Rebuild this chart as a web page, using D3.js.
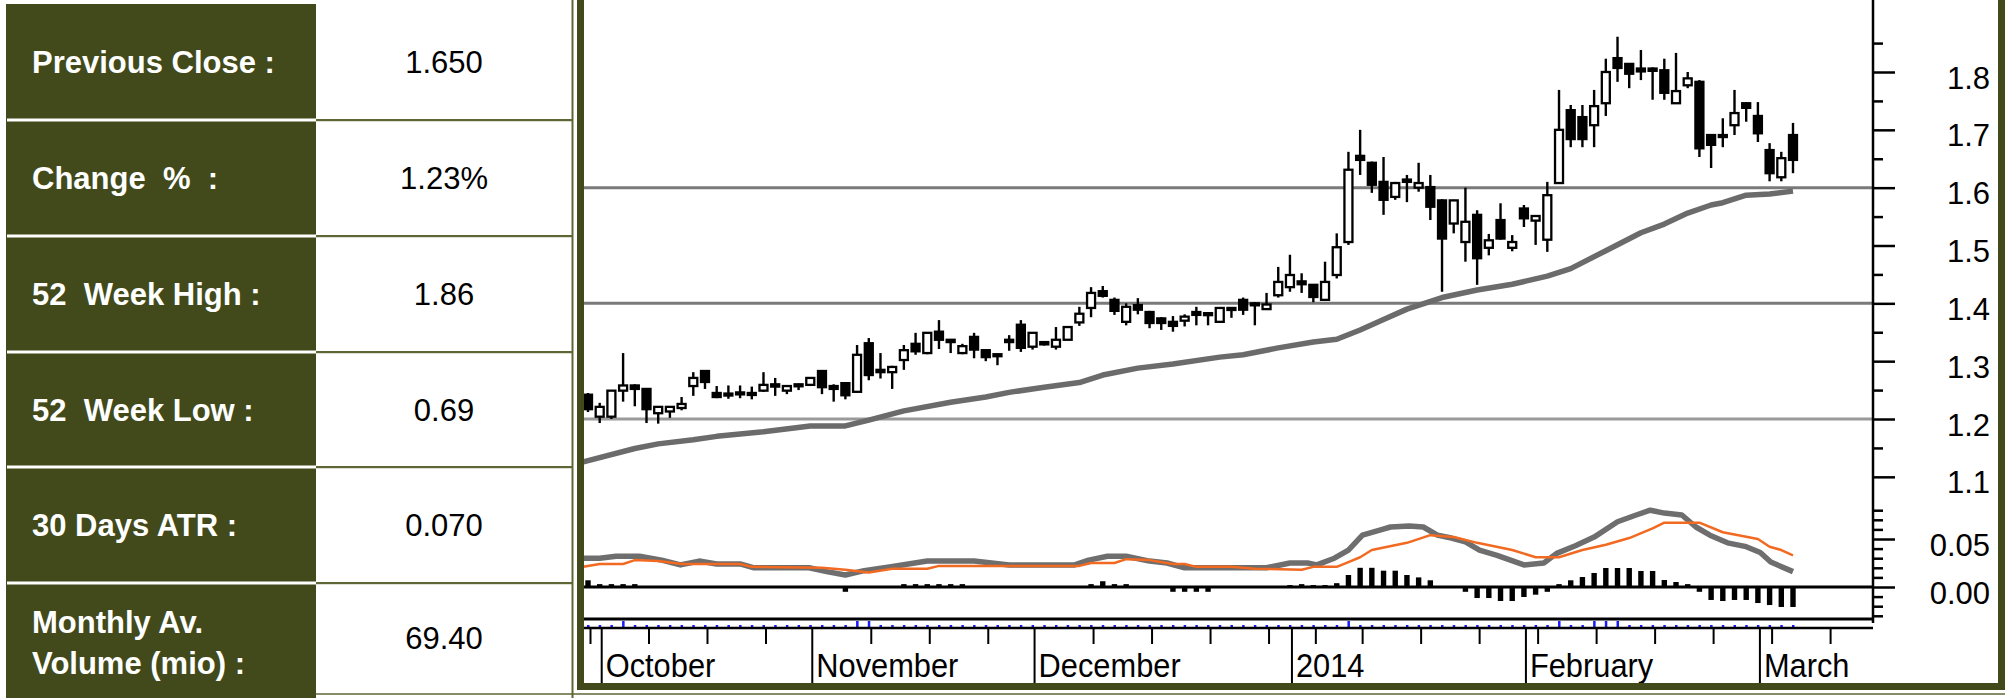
<!DOCTYPE html>
<html><head><meta charset="utf-8">
<script src="https://cdn.jsdelivr.net/npm/d3@7"></script>
<style>
html,body{margin:0;padding:0;background:#fff;overflow:hidden;}
svg{display:block;}
text{white-space:pre;}
</style></head><body>
<svg id="c" width="2005" height="698"></svg>
<script>
// ---------- DATA ----------
const statLabels = ["Previous Close :", "Change  %  :", "52  Week High :", "52  Week Low :", "30 Days ATR :", "Monthly Av.\nVolume (mio) :"];
const statValues = ["1.650", "1.23%", "1.86", "0.69", "0.070", "69.40"];

const opens  = [1.242,1.204,1.204,1.249,1.258,1.252,1.210,1.213,1.219,1.257,1.283,1.245,1.244,1.244,1.245,1.249,1.260,1.249,1.260,1.259,
                1.283,1.257,1.262,1.247,1.331,1.285,1.281,1.302,1.330,1.314,1.351,1.337,1.314,1.342,1.319,1.312,1.333,1.363,1.325,1.333,
                1.325,1.337,1.367,1.392,1.421,1.406,1.368,1.397,1.385,1.374,1.368,1.370,1.385,1.383,1.368,1.390,1.406,1.400,1.390,1.414,
                1.428,1.438,1.432,1.406,1.449,1.506,1.655,1.643,1.610,1.584,1.614,1.600,1.601,1.578,1.538,1.506,1.553,1.496,1.544,1.496,
                1.564,1.543,1.510,1.608,1.734,1.722,1.708,1.746,1.824,1.814,1.806,1.806,1.803,1.746,1.777,1.783,1.691,1.688,1.708,1.746,
                1.724,1.665,1.618,1.691];
const highs  = [1.245,1.228,1.250,1.314,1.260,1.252,1.222,1.222,1.238,1.281,1.283,1.257,1.258,1.258,1.256,1.281,1.271,1.258,1.261,1.272,
                1.284,1.260,1.262,1.328,1.340,1.314,1.292,1.328,1.349,1.350,1.371,1.338,1.330,1.349,1.320,1.313,1.345,1.371,1.350,1.334,
                1.359,1.360,1.394,1.428,1.430,1.410,1.400,1.409,1.387,1.376,1.378,1.381,1.394,1.385,1.393,1.393,1.410,1.402,1.418,1.463,
                1.484,1.452,1.433,1.472,1.521,1.662,1.700,1.645,1.653,1.610,1.622,1.643,1.622,1.580,1.579,1.600,1.561,1.520,1.573,1.518,
                1.570,1.552,1.610,1.769,1.743,1.743,1.769,1.823,1.861,1.815,1.838,1.808,1.823,1.833,1.800,1.786,1.692,1.720,1.769,1.748,
                1.748,1.677,1.662,1.712];
const lows   = [1.212,1.193,1.200,1.230,1.222,1.193,1.192,1.202,1.215,1.240,1.252,1.236,1.235,1.236,1.234,1.247,1.240,1.243,1.250,1.257,
                1.243,1.230,1.234,1.247,1.267,1.270,1.252,1.285,1.311,1.312,1.321,1.314,1.312,1.305,1.300,1.293,1.318,1.316,1.320,1.327,
                1.320,1.337,1.361,1.376,1.410,1.380,1.362,1.381,1.357,1.354,1.351,1.360,1.362,1.362,1.367,1.375,1.380,1.362,1.389,1.410,
                1.420,1.418,1.402,1.404,1.443,1.501,1.622,1.591,1.553,1.579,1.575,1.593,1.544,1.420,1.521,1.472,1.432,1.483,1.510,1.490,
                1.532,1.501,1.489,1.608,1.670,1.670,1.670,1.724,1.783,1.772,1.786,1.752,1.752,1.745,1.772,1.653,1.634,1.670,1.691,1.714,
                1.679,1.611,1.611,1.625];
const closes = [1.217,1.221,1.249,1.258,1.252,1.217,1.221,1.221,1.226,1.271,1.264,1.238,1.242,1.246,1.243,1.259,1.256,1.257,1.257,1.271,
                1.255,1.252,1.241,1.311,1.276,1.281,1.290,1.319,1.317,1.349,1.337,1.333,1.326,1.320,1.307,1.309,1.337,1.323,1.349,1.329,
                1.337,1.359,1.382,1.418,1.413,1.387,1.394,1.389,1.366,1.366,1.361,1.377,1.380,1.380,1.392,1.392,1.389,1.397,1.398,1.437,
                1.449,1.433,1.411,1.437,1.497,1.631,1.648,1.605,1.579,1.608,1.610,1.608,1.567,1.512,1.578,1.541,1.478,1.509,1.512,1.506,
                1.547,1.551,1.587,1.700,1.684,1.684,1.741,1.800,1.807,1.797,1.801,1.802,1.764,1.767,1.789,1.668,1.674,1.691,1.729,1.738,
                1.694,1.625,1.651,1.648];

// moving average: [candle index, value]
const maPoints = [[-0.4,1.126],[4,1.149],[6,1.157],[9,1.164],[11,1.170],[15,1.178],[19,1.188],[22,1.188],[24,1.198],[27,1.214],
                  [31,1.229],[34,1.238],[36,1.246],[39,1.255],[42,1.263],[44,1.276],[47,1.288],[50,1.295],[54,1.307],[56,1.311],
                  [59,1.323],[62,1.333],[64,1.338],[66,1.354],[68,1.372],[70,1.390],[73,1.410],[76,1.423],[79,1.433],[82,1.447],
                  [84,1.460],[87,1.491],[90,1.522],[92,1.537],[94,1.556],[96,1.570],[97,1.574],[99,1.587],[101,1.589],[103,1.594]];

// MACD line (grey) and signal (orange): [candle index, value]
const macdPoints = [[-0.4,0.030],[1,0.030],[2.4,0.032],[4.4,0.032],[6.3,0.028],[7.9,0.023],[9.5,0.027],[11,0.024],[13,0.024],[14.2,0.020],
                    [18.9,0.020],[20.4,0.016],[22,0.0125],[23.6,0.017],[25.9,0.021],[29,0.027],[33,0.027],[36,0.023],[41.6,0.023],[42.8,0.028],
                    [44.4,0.032],[46,0.032],[48,0.027],[49.5,0.025],[51,0.020],[58,0.020],[60,0.025],[61.5,0.025],[62.3,0.023],[63.8,0.030],
                    [65,0.0385],[66.2,0.054],[67.9,0.060],[68.6,0.0625],[70.2,0.0635],[71.4,0.0625],[72.6,0.054],[73.8,0.051],[75,0.047],[76.2,0.0385],
                    [77.7,0.033],[80,0.023],[81.7,0.025],[82.8,0.035],[84.4,0.043],[86,0.052],[88,0.068],[89.6,0.075],[90.8,0.080],[92,0.077],
                    [93.5,0.075],[94.7,0.0625],[95.9,0.054],[97.4,0.046],[99,0.042],[100.2,0.036],[101.1,0.026],[103,0.016]];
const signalPoints = [[-0.4,0.021],[1,0.024],[3,0.024],[4,0.028],[6,0.027],[8,0.024],[13,0.024],[14,0.021],[20,0.020],[22,0.018],
                      [24,0.015],[26,0.019],[29,0.019],[30,0.022],[34,0.022],[42,0.022],[43,0.025],[45,0.025],[46,0.029],[48,0.028],
                      [50,0.024],[51,0.024],[52,0.021],[55,0.021],[57,0.019],[61,0.018],[62,0.021],[64,0.021],[65,0.026],[66,0.031],
                      [67,0.0385],[70,0.046],[72,0.054],[74,0.052],[76,0.046],[79,0.0385],[81,0.031],[83,0.031],[85,0.0385],[87,0.044],
                      [89,0.051],[91,0.061],[92,0.067],[95,0.067],[97,0.057],[100,0.050],[101,0.042],[102,0.0385],[103,0.033]];
const histValues = [0.007,0.003,0.003,0.003,0.003,0.001,0,0,0,0,
                    0.001,0,0,0,0,0,0,0,0,0,
                    0,0,-0.005,0.001,0.001,0.001,0,0.003,0.003,0.003,
                    0.003,0.003,0.003,0.001,0,0,0,0,0.001,0,
                    0,0,0.001,0.003,0.006,0.003,0.003,0.001,0,0,
                    -0.005,-0.005,-0.005,-0.005,0,0,0,0,0,0,
                    0.002,0.003,0.002,0.002,0.004,0.0125,0.02,0.02,0.017,0.017,
                    0.0125,0.01,0.007,0,0,-0.005,-0.0115,-0.0115,-0.0146,-0.0146,
                    -0.0104,-0.008,-0.005,0.003,0.007,0.0104,0.0146,0.0198,0.0198,0.0198,
                    0.0167,0.0167,0.0073,0.0052,0.003,-0.005,-0.0135,-0.0146,-0.0135,-0.0135,
                    -0.0167,-0.0188,-0.0208,-0.0208];
const volumeSpikes = [3, 23, 24, 65, 83, 86, 87, 88];

const priceTicks = [1.1,1.2,1.3,1.4,1.5,1.6,1.7,1.8];
const priceMinorTicks = [1.15,1.25,1.35,1.45,1.55,1.65,1.75,1.85];
const gridLevels = [1.2,1.4,1.6];
const macdTicks = [0.00,0.05];
const macdMinorTicks = [-0.03,-0.02,-0.01,0.01,0.02,0.03,0.04,0.06,0.07,0.08];
const monthLabels = ["October","November","December","2014","February","March"];
const monthStarts = [1,19,38,60,80,100];
const weekTicks = [0,5,10,15,24,29,34,43,48,53,58,62,66,71,76,81,86,91,96,101,106];

// ---------- DRAW ----------
const OLIVE = "#424a1b";
const svg = d3.select("#c");
const FONT = "'Liberation Sans', Arial, Helvetica, sans-serif";

// Left table
const rowEdges = [4,120,236,352,467,583,698];
svg.append("rect").attr("x",6).attr("y",4).attr("width",310).attr("height",694).attr("fill",OLIVE);
rowEdges.slice(1,-1).forEach(y=>{
  svg.append("rect").attr("x",7).attr("y",y-1.5).attr("width",309).attr("height",3).attr("fill","#fff");
  svg.append("rect").attr("x",316).attr("y",y-1).attr("width",257).attr("height",2.2).attr("fill","#5d6634");
});
svg.append("rect").attr("x",571.5).attr("y",0).attr("width",2).attr("height",698).attr("fill","#5d6634");

statLabels.forEach((lab,i)=>{
  const y0 = rowEdges[i], y1 = rowEdges[i+1];
  const lines = lab.split("\n");
  const t = svg.append("text").attr("font-family",FONT).attr("font-weight","bold").attr("font-size",31).attr("fill","#fff");
  if(lines.length===1){
    t.attr("x",32).attr("y",(y0+y1)/2+11).text(lab);
  } else {
    lines.forEach((ln,k)=>t.append("tspan").attr("x",32).attr("y",(y0+y1)/2 - 8 + k*41).text(ln));
  }
  svg.append("text").attr("font-family",FONT).attr("font-size",31).attr("fill","#000")
    .attr("text-anchor","middle").attr("x",444).attr("y",(y0+y1)/2+11 + (i===5?-3:0)).text(statValues[i]);
});

// Scales
const x = d3.scaleLinear().domain([0,103]).range([588,1793]);
const yP = d3.scaleLinear().domain([1.2,1.8]).range([419,72]);
const yM = d3.scaleLinear().domain([0,0.05]).range([587,539]);
const AXX = 1873, LEFT = 584;

// grid lines
svg.append("g").selectAll("line").data(gridLevels).join("line")
  .attr("x1",LEFT).attr("x2",AXX).attr("y1",d=>yP(d)).attr("y2",d=>yP(d))
  .attr("stroke",d=>d===1.2?"#9a9a9a":"#7a7a7a").attr("stroke-width",3);

// moving average
svg.append("path").datum(maPoints)
  .attr("d",d3.line().x(d=>x(d[0])).y(d=>yP(d[1])))
  .attr("fill","none").attr("stroke","#6b6b6b").attr("stroke-width",5.5).attr("stroke-linejoin","round");

// candles
const idx = d3.range(opens.length);
const cg = svg.append("g");
cg.selectAll("line").data(idx).join("line")
  .attr("x1",i=>x(i)).attr("x2",i=>x(i)).attr("y1",i=>yP(highs[i])).attr("y2",i=>yP(lows[i]))
  .attr("stroke","#000").attr("stroke-width",2.4);
cg.selectAll("rect").data(idx).join("rect")
  .attr("x",i=>x(i)-4).attr("width",8)
  .attr("y",i=>Math.min(yP(opens[i]),yP(closes[i])))
  .attr("height",i=>Math.max(Math.abs(yP(opens[i])-yP(closes[i])),2))
  .attr("fill",i=>closes[i]>=opens[i]?"#fff":"#000")
  .attr("stroke","#000").attr("stroke-width",2.3);

// MACD panel
svg.append("g").selectAll("rect").data(idx.filter(i=>histValues[i]!==0)).join("rect")
  .attr("x",i=>x(i)-2.7).attr("width",5.4)
  .attr("y",i=>Math.min(yM(0),yM(histValues[i])))
  .attr("height",i=>Math.abs(yM(histValues[i])-yM(0)))
  .attr("fill","#000");
svg.append("line").attr("x1",LEFT).attr("x2",AXX).attr("y1",yM(0)).attr("y2",yM(0)).attr("stroke","#000").attr("stroke-width",3);
svg.append("path").datum(macdPoints)
  .attr("d",d3.line().x(d=>x(d[0])).y(d=>yM(d[1])))
  .attr("fill","none").attr("stroke","#6e6e6e").attr("stroke-width",5.5).attr("stroke-linejoin","round");
svg.append("path").datum(signalPoints)
  .attr("d",d3.line().x(d=>x(d[0])).y(d=>yM(d[1])))
  .attr("fill","none").attr("stroke","#f26a21").attr("stroke-width",2.5).attr("stroke-linejoin","round");

// panel bottom lines
svg.append("line").attr("x1",LEFT).attr("x2",AXX).attr("y1",619).attr("y2",619).attr("stroke","#000").attr("stroke-width",3);
// blue volume dots
svg.append("g").selectAll("rect").data(idx).join("rect")
  .attr("x",i=>x(i)-1).attr("width",2.5)
  .attr("y",i=>volumeSpikes.includes(i)?621:625).attr("height",i=>volumeSpikes.includes(i)?6:2)
  .attr("fill","#1a1aff");
svg.append("line").attr("x1",LEFT).attr("x2",AXX).attr("y1",628).attr("y2",628).attr("stroke","#000").attr("stroke-width",2.5);

// date axis
const xAxisG = svg.append("g").attr("transform","translate(0,628)");
xAxisG.call(d3.axisBottom(d3.scaleLinear().domain([0,103]).range([590,1795])).tickValues(weekTicks).tickSize(16).tickFormat(""))
  .call(g=>g.select(".domain").remove())
  .call(g=>g.selectAll("line").attr("stroke","#000").attr("stroke-width",2));
const monthG = svg.append("g").attr("transform","translate(0,628)");
monthStarts.forEach((m,k)=>{
  const mx = x(m)+2;
  monthG.append("line").attr("x1",mx).attr("x2",mx).attr("y1",0).attr("y2",57).attr("stroke","#000").attr("stroke-width",2);
  monthG.append("text").attr("transform",`translate(${mx+4},49) scale(0.92,1)`)
    .attr("font-family",FONT).attr("font-size",33.5).attr("fill","#000").text(monthLabels[k]);
});

// right axes
svg.append("line").attr("x1",AXX).attr("x2",AXX).attr("y1",0).attr("y2",623).attr("stroke","#000").attr("stroke-width",2.5);
const pAx = svg.append("g").attr("transform",`translate(${AXX},0)`);
pAx.call(d3.axisRight(yP).tickValues(priceTicks).tickSize(22).tickPadding(0).tickFormat(d3.format(".1f")))
  .call(g=>g.select(".domain").remove())
  .call(g=>g.selectAll("line").attr("stroke","#000").attr("stroke-width",2.5))
  .call(g=>g.selectAll("text").attr("x",117).attr("dy",16).attr("text-anchor","end")
        .attr("font-family",FONT).attr("font-size",31).attr("fill","#000"));
svg.append("g").attr("transform",`translate(${AXX},0)`)
  .call(d3.axisRight(yP).tickValues(priceMinorTicks).tickSize(10).tickFormat(""))
  .call(g=>g.select(".domain").remove())
  .call(g=>g.selectAll("line").attr("stroke","#000").attr("stroke-width",2.5));
svg.append("g").attr("transform",`translate(${AXX},0)`)
  .call(d3.axisRight(yM).tickValues(macdTicks).tickSize(22).tickPadding(0).tickFormat(d3.format(".2f")))
  .call(g=>g.select(".domain").remove())
  .call(g=>g.selectAll("line").attr("stroke","#000").attr("stroke-width",2.5))
  .call(g=>g.selectAll("text").attr("x",117).attr("dy",16).attr("text-anchor","end")
        .attr("font-family",FONT).attr("font-size",31).attr("fill","#000"));
svg.append("g").attr("transform",`translate(${AXX},0)`)
  .call(d3.axisRight(yM).tickValues(macdMinorTicks).tickSize(10).tickFormat(""))
  .call(g=>g.select(".domain").remove())
  .call(g=>g.selectAll("line").attr("stroke","#000").attr("stroke-width",2.5));

// chart frame
svg.append("path").attr("d","M580.5,0 V686.5 H2001.5 V0").attr("fill","none").attr("stroke",OLIVE).attr("stroke-width",7);
svg.append("line").attr("x1",316).attr("x2",2005).attr("y1",694).attr("y2",694).attr("stroke","#5d6634").attr("stroke-width",1.5);
</script>
</body></html>
